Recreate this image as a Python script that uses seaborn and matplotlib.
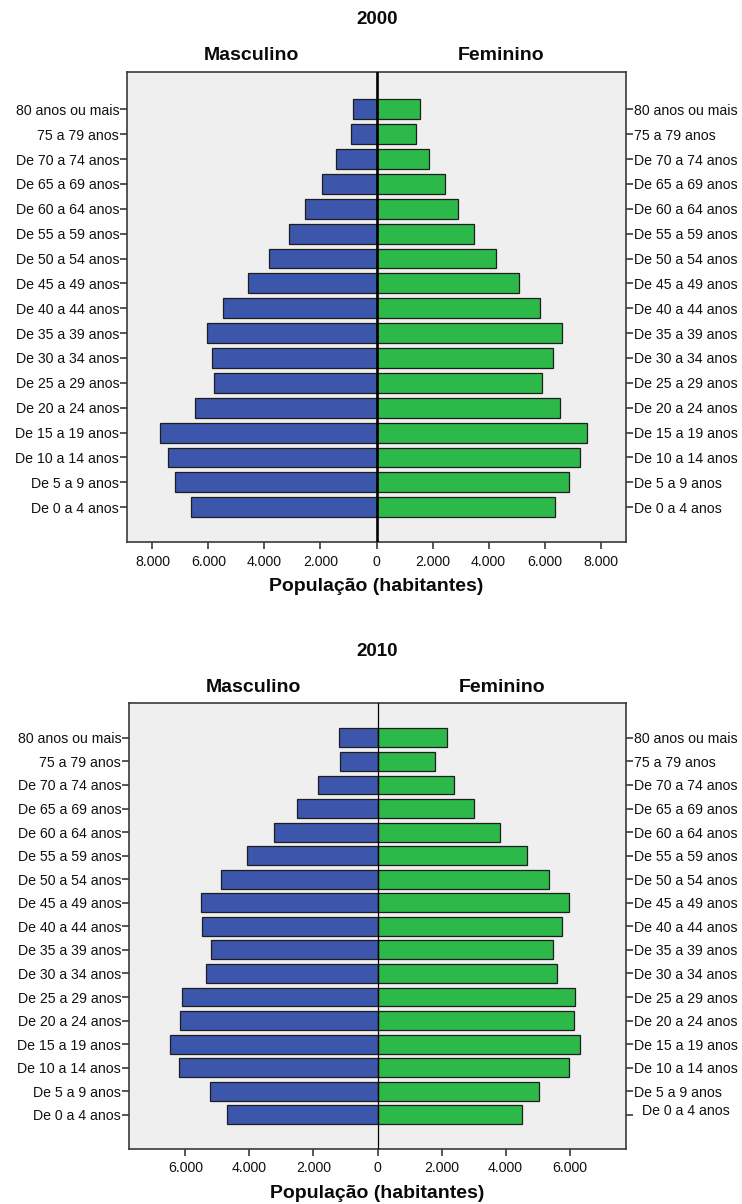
import numpy as np
import pandas as pd
import matplotlib
matplotlib.use("Agg")
import matplotlib.pyplot as plt
import seaborn as sns
from matplotlib.ticker import FuncFormatter, FixedLocator
from matplotlib.transforms import ScaledTranslation

# ---------------- data ----------------
faixas = ['80 anos ou mais', '75 a 79 anos', 'De 70 a 74 anos', 'De 65 a 69 anos',
          'De 60 a 64 anos', 'De 55 a 59 anos', 'De 50 a 54 anos', 'De 45 a 49 anos',
          'De 40 a 44 anos', 'De 35 a 39 anos', 'De 30 a 34 anos', 'De 25 a 29 anos',
          'De 20 a 24 anos', 'De 15 a 19 anos', 'De 10 a 14 anos', 'De 5 a 9 anos',
          'De 0 a 4 anos']
sexos = ['Masculino', 'Feminino']
anos = ['2000', '2010']

masc_2000 = [836, 920, 1440, 1930, 2560, 3140, 3840, 4600, 5490, 6040, 5880, 5820,
             6470, 7740, 7430, 7200, 6620]
fem_2000 = [1540, 1400, 1880, 2440, 2900, 3490, 4270, 5100, 5840, 6620, 6300, 5900,
            6540, 7500, 7260, 6860, 6360]
masc_2010 = [1210, 1170, 1870, 2500, 3240, 4070, 4900, 5510, 5480, 5190, 5340, 6090,
             6180, 6470, 6210, 5220, 4690]
fem_2010 = [2180, 1780, 2380, 3000, 3830, 4660, 5350, 5990, 5770, 5480, 5620, 6170,
            6130, 6320, 5990, 5040, 4500]

xticks_2000 = [-8000, -6000, -4000, -2000, 0, 2000, 4000, 6000, 8000]
xticks_2010 = [-6000, -4000, -2000, 0, 2000, 4000, 6000]
xlabel = 'População (habitantes)'

# ---------------- style ----------------
sns.set_style('white')
plt.rcParams['font.family'] = ['Liberation Sans', 'DejaVu Sans']
plt.rcParams['text.color'] = '#0a0a0a'
plt.rcParams['axes.labelcolor'] = '#0a0a0a'

W, H = 742, 1204
fig = plt.figure(figsize=(W / 100, H / 100), dpi=100)
fig.patch.set_facecolor('white')

palette = {'Masculino': '#3C56AB', 'Feminino': '#2DB84A'}
BG = '#EFEFEF'
SPINE = '#3a3a3a'


def fx(px):
    return px / W


def fy(px):
    return 1 - px / H


def fmt(v, pos):
    return f"{abs(int(round(v))):,}".replace(',', '.')


panels = [
    dict(ano='2000', masc=masc_2000, fem=fem_2000, ticks=xticks_2000, xl=8910,
         box=(127, 72, 626, 542), zlw=1.9, ylim=(16 + 1.40, -1.50)),
    dict(ano='2010', masc=masc_2010, fem=fem_2010, ticks=xticks_2010, xl=7760,
         box=(129, 703, 626, 1149), zlw=0.9, ylim=(16 + 1.45, -1.48)),
]

for p in panels:
    l, t, r, b = p['box']
    ax = fig.add_axes([fx(l), fy(b), fx(r) - fx(l), fy(t) - fy(b)])
    ax.set_facecolor(BG)
    df = pd.DataFrame({
        'faixa': faixas * 2,
        'sexo': [sexos[0]] * len(faixas) + [sexos[1]] * len(faixas),
        'pop': [-v for v in p['masc']] + list(p['fem']),
    })
    sns.barplot(data=df, x='pop', y='faixa', hue='sexo', order=faixas,
                hue_order=sexos, palette=palette, saturation=1, dodge=False,
                width=0.8, edgecolor='#1e1e1e', linewidth=0.9, errorbar=None,
                legend=False, orient='h', ax=ax)
    ax.axvline(0, color='black', lw=p['zlw'], zorder=5)
    ax.set_xlim(-p['xl'], p['xl'])
    ax.set_ylim(*p['ylim'])
    ax.xaxis.set_major_locator(FixedLocator(p['ticks']))
    ax.xaxis.set_major_formatter(FuncFormatter(fmt))
    ax.set_ylabel('')
    ax.set_xlabel(xlabel, fontsize=14, fontweight='bold', labelpad=7)
    for s in ax.spines.values():
        s.set_color(SPINE)
        s.set_linewidth(1.2)
    ax.tick_params(axis='y', left=True, right=True, labelleft=True,
                   labelright=True, length=5, width=1.2, pad=0.6,
                   labelsize=10.2, color=SPINE, labelcolor='#111111')
    ax.tick_params(axis='x', bottom=True, length=5, width=1.2, pad=4,
                   labelsize=10.2, color=SPINE, labelcolor='#111111')
    # column headers and year title
    ax.text(0.25, 1 + 16 / (b - t), sexos[0], transform=ax.transAxes,
            ha='center', va='center', fontsize=14, fontweight='bold')
    ax.text(0.75, 1 + 16 / (b - t), sexos[1], transform=ax.transAxes,
            ha='center', va='center', fontsize=14, fontweight='bold')
    fig.text(fx(377), fy(t - 52), p['ano'], ha='center', va='center',
             fontsize=13.5, fontweight='bold')
    p['ax'] = ax

# quirk: shifted right-hand label of the last age group in 2010
fig.canvas.draw()
ax2 = panels[1]['ax']
lab = ax2.yaxis.majorTicks[len(faixas) - 1].label2
lab.set_transform(lab.get_transform() + ScaledTranslation(8 / 100, 5 / 100, fig.dpi_scale_trans))

fig.savefig('out.png', dpi=100, facecolor='white')
